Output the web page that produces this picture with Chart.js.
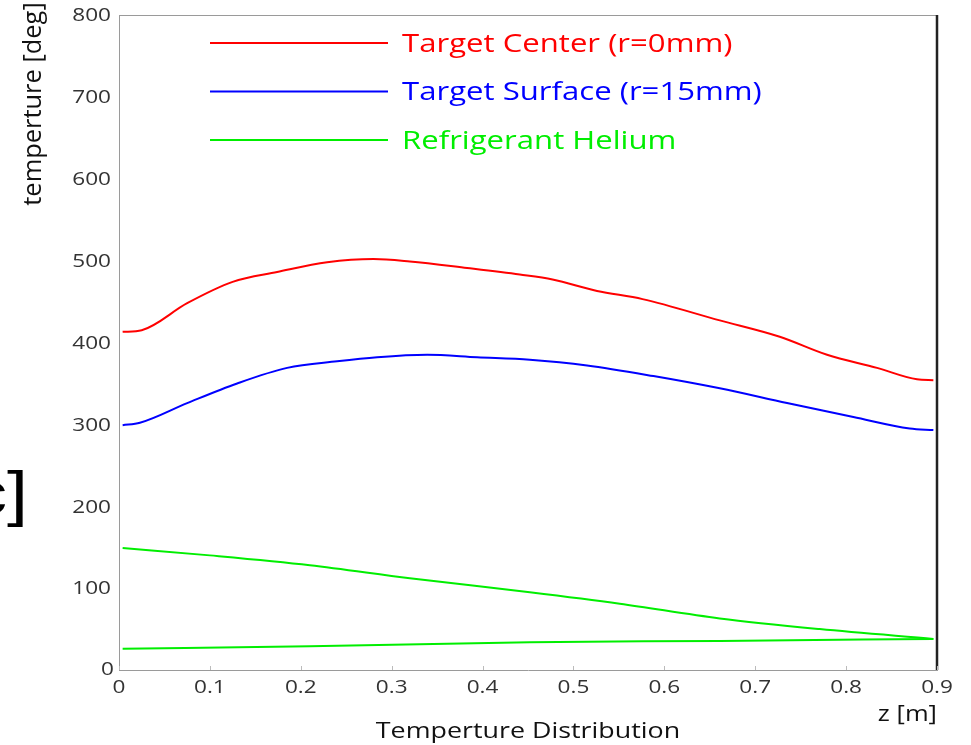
<!DOCTYPE html>
<html>
<head>
<meta charset="utf-8">
<script src="https://cdn.jsdelivr.net/npm/chart.js@4.4.1/dist/chart.umd.min.js"></script>
<style>
  html, body { margin: 0; padding: 0; background: #fff; }
  #wrap { width: 971px; height: 745px; }
</style>
</head>
<body>
<div id="wrap"><canvas id="myChart" width="971" height="745"></canvas></div>
<script>
// values
const zCenter = [0.004, 0.025, 0.075, 0.125, 0.174, 0.229, 0.28, 0.32, 0.383, 0.441, 0.477, 0.526, 0.576, 0.661, 0.727, 0.779, 0.834, 0.878, 0.896];
const tCenter = [413, 415, 448, 474, 486, 498, 502, 499, 491, 483, 477, 463, 453, 427, 407, 385, 369, 355, 354];

const zSurface = [0.004, 0.023, 0.075, 0.13, 0.185, 0.24, 0.284, 0.339, 0.394, 0.452, 0.515, 0.588, 0.661, 0.735, 0.808, 0.87, 0.896];
const tSurface = [299, 302, 326, 350, 369, 377, 382, 385, 382, 379, 372, 359, 344, 326, 309, 295, 293];

const zHeliumIn = [0.004, 0.1, 0.21, 0.32, 0.452, 0.551, 0.661, 0.771, 0.896];
const tHeliumIn = [149, 140, 128, 112, 95, 81, 63, 50, 38];

const zHeliumOut = [0.004, 0.21, 0.452, 0.661, 0.896];
const tHeliumOut = [26, 29, 34, 35.5, 38];

const seriesLabels = ['Target Center (r=0mm)', 'Target Surface (r=15mm)', 'Refrigerant Helium'];
const xTicks = [0, 0.1, 0.2, 0.3, 0.4, 0.5, 0.6, 0.7, 0.8, 0.9];
const yTicks = [0, 100, 200, 300, 400, 500, 600, 700, 800];

const RED = '#ff0000', BLUE = '#0000ff', GREEN = '#00ee00';
const FONT = '"Open Sans", sans-serif';
const STRETCH = 1.22; // the slide picture is stretched sideways

function toPoints(xs, ys) {
    return xs.map((x, i) => ({ x: x, y: ys[i] }));
}

function line(label, xs, ys, color) {
    return {
        label: label,
        data: toPoints(xs, ys),
        borderColor: color,
        backgroundColor: color,
        borderWidth: 2,
        pointRadius: 0,
        showLine: true,
        cubicInterpolationMode: 'monotone'
    };
}

function wideText(ctx, text, x, y, align) {
    ctx.save();
    ctx.translate(x, y);
    ctx.scale(STRETCH, 1);
    ctx.textAlign = align;
    ctx.fillText(text, 0, 0);
    ctx.restore();
}

// tick labels, legend, axis titles, frame and the clipped slide text
const extras = {
    id: 'extras',
    afterDraw(chart) {
        const ctx = chart.ctx;
        const a = chart.chartArea;
        const xs = chart.scales.x, ys = chart.scales.y;
        ctx.save();

        // frame: top grey, right black
        ctx.strokeStyle = '#9a9a9a';
        ctx.lineWidth = 1;
        ctx.beginPath();
        ctx.moveTo(a.left, a.top + 0.5);
        ctx.lineTo(a.right, a.top + 0.5);
        ctx.stroke();
        ctx.strokeStyle = '#222';
        ctx.lineWidth = 2.5;
        ctx.beginPath();
        ctx.moveTo(a.right, a.top);
        ctx.lineTo(a.right, a.bottom);
        ctx.stroke();

        // small inward ticks
        ctx.strokeStyle = '#bbb';
        ctx.lineWidth = 1;
        ctx.beginPath();
        xTicks.forEach(v => {
            const px = Math.round(xs.getPixelForValue(v)) + 0.5;
            ctx.moveTo(px, a.bottom);
            ctx.lineTo(px, a.bottom - 4);
        });
        ctx.stroke();

        // tick labels
        ctx.fillStyle = '#333';
        ctx.font = '18.5px ' + FONT;
        ctx.textBaseline = 'middle';
        yTicks.forEach(v => {
            const py = ys.getPixelForValue(v);
            if (v === 0) {
                wideText(ctx, '0', a.left - 5, py, 'right');
            } else {
                wideText(ctx, String(v), a.left - 8, py + 1, 'right');
            }
        });
        xTicks.forEach(v => {
            wideText(ctx, String(v), xs.getPixelForValue(v), a.bottom + 18, 'center');
        });

        // legend
        const colors = [RED, BLUE, GREEN];
        ctx.font = '25.5px ' + FONT;
        ctx.textBaseline = 'middle';
        seriesLabels.forEach((lab, i) => {
            const y = a.top + 28 + i * 48.5;
            ctx.strokeStyle = colors[i];
            ctx.lineWidth = 2;
            ctx.beginPath();
            ctx.moveTo(a.left + 91, y);
            ctx.lineTo(a.left + 269, y);
            ctx.stroke();
            ctx.fillStyle = colors[i];
            wideText(ctx, lab, a.left + 283, y + 1.5, 'left');
        });

        // y title
        ctx.save();
        ctx.translate(34, a.top + 89);
        ctx.rotate(-Math.PI / 2);
        ctx.font = '24px ' + FONT;
        ctx.fillStyle = '#111';
        ctx.textAlign = 'center';
        ctx.textBaseline = 'middle';
        ctx.scale(1.06, 1.05);
        ctx.fillText('temperture [deg]', 0, 0);
        ctx.restore();

        // x titles
        ctx.fillStyle = '#111';
        ctx.font = '21px ' + FONT;
        wideText(ctx, 'z [m]', a.right, a.bottom + 45, 'right');
        ctx.font = '22px ' + FONT;
        wideText(ctx, 'Temperture Distribution', (a.left + a.right) / 2, a.bottom + 62, 'center');

        // leftover text from the slide behind
        ctx.fillStyle = '#000';
        ctx.font = '62px "Liberation Sans", Arial, sans-serif';
        ctx.textBaseline = 'alphabetic';
        wideText(ctx, 'c]', 28, 514, 'right');

        ctx.restore();
    }
};

function createGraph() {
    const ctx = document.getElementById('myChart').getContext('2d');

    new Chart(ctx, {
        type: 'scatter',
        data: {
            datasets: [
                line(seriesLabels[0], zCenter, tCenter, RED),
                line(seriesLabels[1], zSurface, tSurface, BLUE),
                line(seriesLabels[2], zHeliumIn, tHeliumIn, GREEN),
                line(seriesLabels[2], zHeliumOut, tHeliumOut, GREEN)
            ]
        },
        options: {
            responsive: false,
            animation: false,
            layout: { padding: { top: 15, right: 34, left: 0, bottom: 0 } },
            plugins: {
                legend: { display: false },
                tooltip: { enabled: false }
            },
            scales: {
                x: {
                    type: 'linear',
                    min: 0,
                    max: 0.9,
                    afterBuildTicks: s => { s.ticks = xTicks.map(v => ({ value: v })); },
                    afterFit: s => { s.height = 75; },
                    grid: { display: false },
                    border: { display: true, color: '#9a9a9a', width: 1 },
                    ticks: { display: false }
                },
                y: {
                    min: 0,
                    max: 800,
                    afterBuildTicks: s => { s.ticks = yTicks.map(v => ({ value: v })); },
                    afterFit: s => { s.width = 119; },
                    grid: { display: false },
                    border: { display: true, color: '#9a9a9a', width: 1 },
                    ticks: { display: false }
                }
            }
        },
        plugins: [extras]
    });
}

document.addEventListener('DOMContentLoaded', createGraph);
</script>
</body>
</html>
